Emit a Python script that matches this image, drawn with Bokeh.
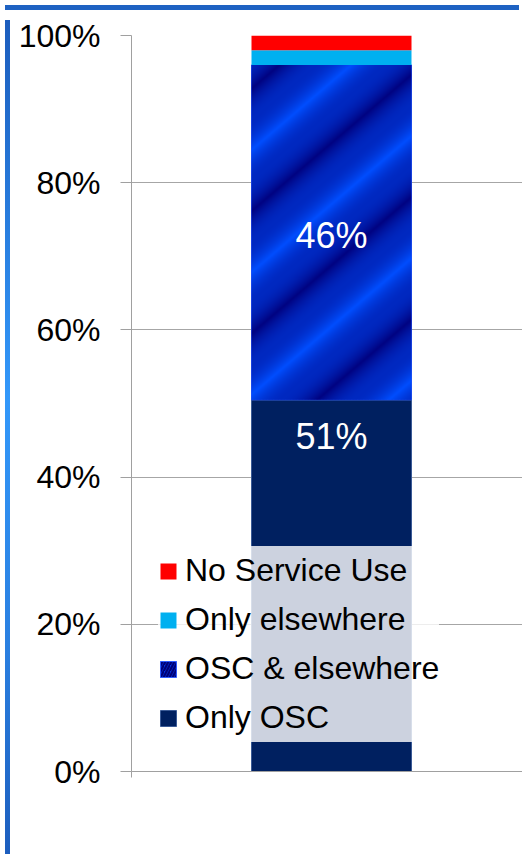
import numpy as np
from bokeh.plotting import figure
from bokeh.models import Range1d, FixedTicker, Legend, LegendItem, Div
from bokeh.layouts import column, row
from bokeh.core.properties import value
from bokeh.embed import file_html
from bokeh.resources import INLINE

# ---- data ----
categories = ["Only OSC", "OSC & elsewhere", "Only elsewhere", "No Service Use"]
shares = [50.5, 45.5, 2.0, 2.0]
data_labels = ["51%", "46%", "", ""]
label_frac = [0.9, 0.49, None, None]
colors = ["#002060", "#0034E0", "#00B0F0", "#FF0000"]
ytick_values = [0, 20, 40, 60, 80, 100]
ytick_labels = ["0%", "20%", "40%", "60%", "80%", "100%"]
bar_x = 0.5
bar_width = 0.4

FONT = "Liberation Sans"

bottoms = list(np.cumsum([0] + shares[:-1]))
tops = list(np.cumsum(shares))

p = figure(width=507, height=838, x_range=Range1d(0, 0.9775), y_range=Range1d(0, 100),
           output_backend="svg", toolbar_location=None,
           min_border_left=116, min_border_right=0, min_border_top=20, min_border_bottom=82)
p.outline_line_color = None
p.background_fill_color = "white"
p.border_fill_color = "white"

renderers = []
for i, cat in enumerate(categories):
    kw = dict(fill_color=colors[i], line_color=None)
    if cat == "OSC & elsewhere":
        kw.update(hatch_pattern="/", hatch_color="#000078", hatch_scale=6, hatch_weight=2.2,
                  line_color="#2F5CFF", line_width=1)
    if cat == "Only OSC":
        kw.update(line_color="#3A5A96", line_width=1)
    r = p.vbar(x=[bar_x], width=bar_width, bottom=[bottoms[i]], top=[tops[i]], **kw)
    renderers.append(r)
    if cat == "OSC & elsewhere":
        # diagonal reflected gradient styling over this segment
        nx, ny = 160, int(round(shares[i] * 7.36))
        X, Y = np.meshgrid(np.arange(nx), np.arange(ny))
        ph = np.mod((Y - 0.85 * X - 5) / 122.0, 1.0)
        v = np.abs(2 * ph - 1)
        s = 2 * v - 1
        w = 0.52 + 0.48 * np.sign(s) * np.abs(s) ** 1.8
        dark = np.array([0, 0, 125])
        bright = np.array([0, 78, 255])
        rgb = dark[None, None, :] + (bright - dark)[None, None, :] * w[:, :, None]
        img = np.zeros((ny, nx), dtype=np.uint32)
        view = img.view(dtype=np.uint8).reshape((ny, nx, 4))
        view[:, :, 0] = rgb[:, :, 0].astype(np.uint8)
        view[:, :, 1] = rgb[:, :, 1].astype(np.uint8)
        view[:, :, 2] = rgb[:, :, 2].astype(np.uint8)
        view[:, :, 3] = 255
        p.image_rgba(image=[img], x=bar_x - bar_width / 2, y=bottoms[i], dw=bar_width, dh=shares[i])

# data labels
lx, ly, lt = [], [], []
for i in range(len(categories)):
    if data_labels[i]:
        lx.append(bar_x)
        ly.append(bottoms[i] + shares[i] * label_frac[i])
        lt.append(data_labels[i])
p.text(x=lx, y=ly, text=lt, text_font=value(FONT), text_font_size="36px",
       text_color="white", text_align="center", text_baseline="middle")

# axes
p.yaxis.ticker = FixedTicker(ticks=ytick_values)
p.yaxis.major_label_overrides = {v: l for v, l in zip(ytick_values, ytick_labels)}
p.yaxis.major_label_text_font = FONT
p.yaxis.major_label_text_font_size = "32px"
p.yaxis.major_label_text_color = "black"
p.yaxis.major_label_standoff = 20
p.yaxis.major_tick_out = 11
p.yaxis.major_tick_in = 0
p.yaxis.minor_tick_line_color = None
p.yaxis.axis_line_color = "#A0A0A0"
p.yaxis.major_tick_line_color = "#A0A0A0"

p.xaxis.ticker = FixedTicker(ticks=[0.0, 1.0])
p.xaxis.major_label_overrides = {0.0: "", 1.0: ""}
p.xaxis.major_tick_out = 6
p.xaxis.major_tick_in = 0
p.xaxis.minor_tick_line_color = None
p.xaxis.axis_line_color = "#A0A0A0"
p.xaxis.major_tick_line_color = "#A0A0A0"

p.xgrid.visible = False
p.ygrid.ticker = FixedTicker(ticks=ytick_values)
p.ygrid.grid_line_color = "#A6A6A6"
p.ygrid.grid_line_width = 1

# legend (top to bottom)
order = [3, 2, 1, 0]
items = [LegendItem(label=categories[i], renderers=[renderers[i]]) for i in order]
legend = Legend(items=items, location=(27, 29), orientation="vertical",
                background_fill_color="white", background_fill_alpha=0.8,
                border_line_color=None, label_text_font=FONT, label_text_font_size="32px",
                label_text_color="black", glyph_width=20, glyph_height=20,
                label_height=49, spacing=0, padding=0, margin=0, label_standoff=7)
p.add_layout(legend)

top_band = Div(width=514, height=5, styles={"background": "#1E62C2"})
left_band = Div(width=5, height=838,
                styles={"background": "linear-gradient(#1C5DBD, #3398FA 45%, #2A7FE0 75%, #1C5DBD)"})
layout = column(top_band, row(left_band, p, spacing=0), spacing=0)

open("out.html", "w").write(file_html(layout, INLINE))
